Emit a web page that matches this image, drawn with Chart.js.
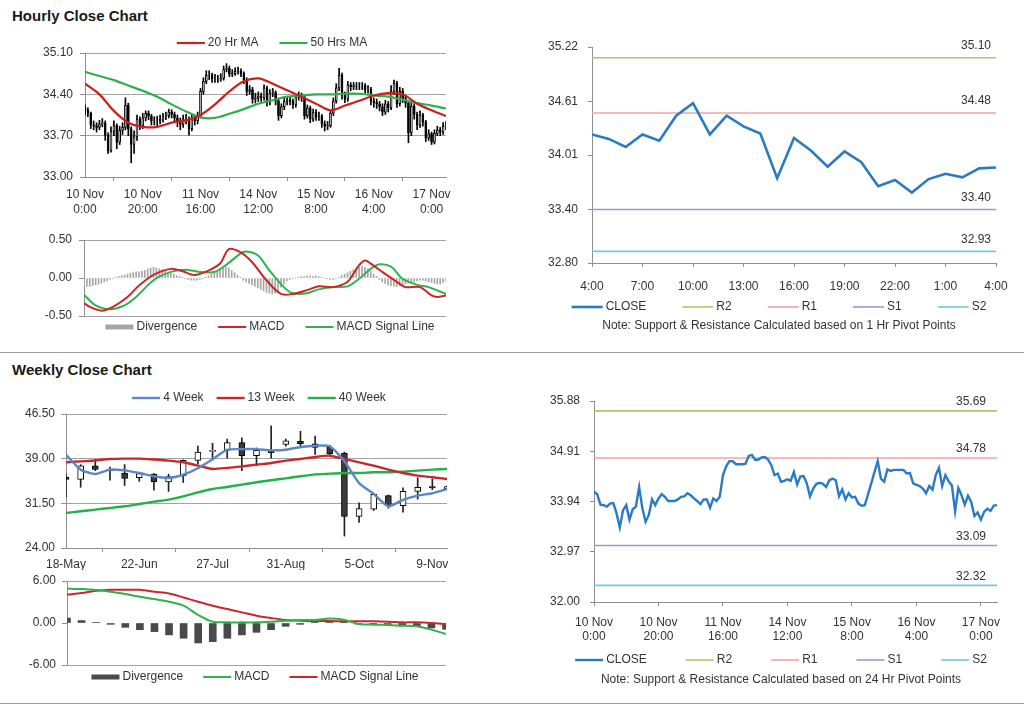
<!DOCTYPE html>
<html>
<head>
<meta charset="utf-8">
<title>Hourly and Weekly Close Charts</title>
<script src="https://cdn.jsdelivr.net/npm/chart.js@4"></script>
<style>
  html, body { margin: 0; padding: 0; background: #fff; }
  body { position: relative; width: 1024px; height: 706px; overflow: hidden; font-family: "Liberation Sans", Arial, sans-serif; }
  .title { position: absolute; left: 12px; font-size: 15px; line-height: 18px; font-weight: bold; color: #1a1a1a; }
  .rule { position: absolute; left: 0; width: 1024px; height: 1px; background: #a0a0a0; }
  .panel { position: absolute; }
</style>
</head>
<body>
<div class="title" style="top:7px">Hourly Close Chart</div>
<div class="rule" style="top:352px"></div>
<div class="title" style="top:361px">Weekly Close Chart</div>
<div class="rule" style="top:703px"></div>

<canvas id="hour-candles" class="panel" width="460" height="195" style="left:0;top:30px"></canvas>
<canvas id="hour-macd" class="panel" width="460" height="112" style="left:0;top:228px"></canvas>
<canvas id="pivot-1h" class="panel" width="504" height="310" style="left:520px;top:30px"></canvas>
<canvas id="week-candles" class="panel" width="460" height="185" style="left:0;top:385px"></canvas>
<canvas id="week-macd" class="panel" width="460" height="130" style="left:0;top:570px"></canvas>
<canvas id="pivot-24h" class="panel" width="504" height="310" style="left:520px;top:385px"></canvas>

<script>
// Hourly prices, 10 Nov 0:00 to 17 Nov 4:00 (126 trading hours)
const hourFirstOpen = 34.18;
const hourClose = [
  34.13, 34.08, 33.88, 33.87, 33.84, 33.90, 33.91, 33.71, 33.44, 33.77,
  33.87, 33.59, 33.79, 33.84, 34.22, 33.81, 33.55, 33.68, 33.98, 33.87,
  34.00, 34.08, 34.03, 33.95, 33.95, 33.95, 33.98, 34.03, 34.04, 34.10,
  34.06, 34.00, 33.95, 33.89, 33.98, 33.98, 33.82, 34.00, 33.95, 34.03,
  34.45, 34.62, 34.72, 34.72, 34.66, 34.66, 34.66, 34.67, 34.82, 34.84,
  34.74, 34.75, 34.79, 34.80, 34.75, 34.64, 34.45, 34.48, 34.32, 34.34,
  34.37, 34.34, 34.51, 34.27, 34.42, 34.43, 34.29, 34.04, 34.19, 34.28,
  34.30, 34.28, 34.22, 34.35, 34.38, 34.35, 34.04, 34.17, 33.98, 34.10,
  34.02, 34.03, 33.90, 33.86, 33.87, 34.08, 34.29, 34.51, 34.72, 34.38,
  34.32, 34.56, 34.53, 34.55, 34.55, 34.55, 34.55, 34.48, 34.49, 34.29,
  34.26, 34.24, 34.19, 34.10, 34.24, 34.17, 34.45, 34.59, 34.24, 34.45,
  34.33, 34.25, 33.75, 34.20, 34.06, 33.88, 34.05, 33.93, 33.66, 33.73,
  33.59, 33.74, 33.80, 33.76, 33.86, 33.87
];
const hourHigh = [
  34.22, 34.17, 34.10, 33.95, 33.92, 33.96, 33.99, 33.95, 33.75, 33.85,
  33.95, 33.90, 33.86, 33.92, 34.34, 34.25, 33.85, 33.78, 34.05, 34.02,
  34.08, 34.12, 34.12, 34.06, 34.02, 34.03, 34.05, 34.08, 34.10, 34.15,
  34.14, 34.10, 34.05, 34.00, 34.05, 34.06, 34.02, 34.06, 34.04, 34.10,
  34.50, 34.68, 34.80, 34.80, 34.76, 34.74, 34.72, 34.75, 34.88, 34.92,
  34.88, 34.82, 34.85, 34.86, 34.83, 34.78, 34.68, 34.55, 34.52, 34.42,
  34.44, 34.42, 34.56, 34.54, 34.48, 34.50, 34.46, 34.32, 34.24, 34.34,
  34.36, 34.35, 34.32, 34.40, 34.44, 34.42, 34.38, 34.22, 34.20, 34.15,
  34.14, 34.10, 34.06, 33.95, 33.94, 34.14, 34.34, 34.58, 34.84, 34.76,
  34.44, 34.62, 34.60, 34.60, 34.60, 34.60, 34.60, 34.58, 34.55, 34.52,
  34.34, 34.32, 34.28, 34.24, 34.30, 34.28, 34.55, 34.64, 34.62, 34.52,
  34.50, 34.38, 34.30, 34.26, 34.24, 34.10, 34.12, 34.08, 33.96, 33.80,
  33.76, 33.80, 33.86, 33.84, 33.92, 33.94
];
const hourLow = [
  34.05, 34.02, 33.82, 33.80, 33.76, 33.80, 33.85, 33.62, 33.40, 33.42,
  33.70, 33.48, 33.55, 33.72, 33.80, 33.70, 33.24, 33.40, 33.62, 33.80,
  33.82, 33.95, 33.97, 33.88, 33.88, 33.87, 33.90, 33.93, 33.97, 34.00,
  34.00, 33.92, 33.85, 33.80, 33.84, 33.90, 33.71, 33.78, 33.88, 33.90,
  34.00, 34.40, 34.58, 34.65, 34.60, 34.60, 34.60, 34.62, 34.64, 34.78,
  34.70, 34.70, 34.72, 34.74, 34.70, 34.58, 34.38, 34.40, 34.25, 34.25,
  34.28, 34.28, 34.30, 34.20, 34.22, 34.36, 34.22, 33.96, 34.00, 34.14,
  34.22, 34.22, 34.16, 34.18, 34.30, 34.28, 33.98, 34.00, 33.92, 33.94,
  33.96, 33.96, 33.84, 33.78, 33.80, 33.84, 34.04, 34.25, 34.46, 34.32,
  34.26, 34.28, 34.46, 34.48, 34.48, 34.48, 34.48, 34.42, 34.42, 34.22,
  34.18, 34.16, 34.12, 34.04, 34.06, 34.10, 34.14, 34.40, 34.18, 34.20,
  34.26, 34.18, 33.58, 33.70, 33.98, 33.80, 33.84, 33.86, 33.60, 33.62,
  33.55, 33.56, 33.70, 33.70, 33.72, 33.80
];
const hourTickAt = [0, 20, 40, 60, 80, 100, 120];
const hourTickLabels = [
  ["10 Nov", "0:00"], ["10 Nov", "20:00"], ["11 Nov", "16:00"], ["14 Nov", "12:00"],
  ["15 Nov", "8:00"], ["16 Nov", "4:00"], ["17 Nov", "0:00"]
];
const hourYTicks = [33.0, 33.7, 34.4, 35.1];

// Hourly moving averages, read every 5 hours
const maAt = [0, 5, 10, 15, 20, 25, 30, 35, 40, 45, 50, 55, 60, 65, 70, 75, 80, 85, 90, 95, 100, 105, 110, 115, 120, 125];
const ma20 = [34.58, 34.40, 34.12, 33.92, 33.85, 33.85, 33.92, 33.96, 34.05, 34.23, 34.45, 34.62, 34.67,
  34.58, 34.47, 34.36, 34.24, 34.13, 34.21, 34.29, 34.38, 34.42, 34.40, 34.24, 34.13, 34.03];
const ma50 = [34.78, 34.71, 34.64, 34.55, 34.46, 34.36, 34.23, 34.11, 34.01, 34.00, 34.07, 34.15, 34.24,
  34.30, 34.36, 34.38, 34.40, 34.40, 34.41, 34.41, 34.38, 34.36, 34.31, 34.25, 34.21, 34.16];

// Hourly MACD
const hourMacdAt = [0, 2, 6, 10, 15, 19, 24, 30, 34, 38, 42, 47, 50, 54, 58, 63, 68, 72, 77, 81,
  86, 91, 95, 97, 99, 103, 108, 111, 116, 120, 122, 125];
const hourMacd = [-0.33, -0.38, -0.43, -0.38, -0.25, -0.10, 0.04, 0.12, 0.09, 0.04, 0.08, 0.19, 0.38, 0.34,
  0.21, -0.03, -0.21, -0.21, -0.16, -0.11, -0.12, -0.05, 0.17, 0.23, 0.19, 0.08, -0.05, -0.12, -0.12,
  -0.23, -0.25, -0.23];
const hourSignalAt = [0, 4, 9, 14, 18, 24, 30, 35, 40, 45, 49, 54, 56, 60, 64, 69, 72, 77, 81, 86,
  91, 95, 99, 102, 106, 110, 115, 119, 125];
const hourSignal = [-0.22, -0.36, -0.41, -0.36, -0.25, -0.03, 0.08, 0.11, 0.08, 0.08, 0.17, 0.32, 0.35,
  0.30, 0.10, -0.12, -0.20, -0.20, -0.15, -0.12, -0.11, -0.01, 0.12, 0.18, 0.15, -0.01, -0.09, -0.12, -0.21];
const hourDivergence = [
  -0.10, -0.11, -0.11, -0.10, -0.09, -0.08, -0.07, -0.05, -0.04, -0.02, -0.01,
  0.01, 0.02, 0.03, 0.04, 0.05, 0.06, 0.07, 0.08, 0.08, 0.09, 0.10, 0.12, 0.13, 0.14,
  0.13, 0.12, 0.11, 0.09, 0.07, 0.06, 0.05, 0.03, 0.02, 0.01,
  -0.01, -0.02, -0.03, -0.03, -0.03, -0.02, -0.01,
  0.01, 0.03, 0.05, 0.07, 0.09, 0.11, 0.13, 0.14, 0.13, 0.10, 0.07, 0.04, 0.01,
  -0.03, -0.05, -0.07, -0.09, -0.11, -0.13, -0.15, -0.17, -0.19, -0.20, -0.21, -0.20,
  -0.17, -0.12, -0.08, -0.04, -0.02,
  -0.01, 0.00, 0.01, 0.02, 0.02, 0.03, 0.03, 0.02, 0.03, 0.02, 0.01, 0.00, -0.01,
  -0.02, -0.02, -0.01, 0.01, 0.03, 0.05,
  0.07, 0.09, 0.11, 0.13, 0.14, 0.15, 0.14, 0.12, 0.09, 0.05, 0.02,
  -0.02, -0.05, -0.07, -0.09, -0.10, -0.11, -0.11, -0.10, -0.09, -0.08, -0.07, -0.06,
  -0.05, -0.04, -0.03, -0.03, -0.04, -0.05, -0.06, -0.07, -0.08, -0.08, -0.06, -0.04
];
const hourMacdTicks = [-0.5, 0, 0.5];

// Pivot levels
const pivotNames = ["R2", "R1", "S1", "S2"];
const pivot1hLevels = [35.10, 34.48, 33.40, 32.93];
const pivot1hYTicks = [32.80, 33.40, 34.01, 34.61, 35.22];
const pivot1hTickAt = [0, 3, 6, 9, 12, 15, 18, 21, 24];
const pivot1hTickLabels = ["4:00", "7:00", "10:00", "13:00", "16:00", "19:00", "22:00", "1:00", "4:00"];
const pivot24hLevels = [35.69, 34.78, 33.09, 32.32];
const pivot24hYTicks = [32.00, 32.97, 33.94, 34.91, 35.88];

// Weekly prices, 18 May to 16 Nov
const weekOpen = [35.9, 35.5, 37.8, 37.2, 36.6, 35.8, 36.4, 35.1, 36.1, 38.7, 40.2, 40.4, 41.7, 39.5,
  40.3, 41.4, 41.9, 41.5, 40.9, 39.9, 29.3, 30.5, 32.8, 31.1, 33.5, 34.3, 33.9];
const weekHigh = [36.4, 38.0, 38.9, 37.6, 38.0, 36.7, 36.5, 36.4, 38.8, 41.1, 41.6, 42.3, 42.5, 40.8,
  44.5, 42.3, 43.6, 42.8, 41.2, 40.1, 31.6, 33.2, 32.9, 34.1, 35.8, 35.6, 34.4];
const weekLow = [32.6, 34.2, 37.0, 35.4, 34.5, 35.2, 33.7, 33.5, 35.0, 38.1, 38.8, 39.1, 37.0, 37.8,
  39.1, 41.1, 40.8, 39.7, 39.3, 26.0, 28.3, 30.3, 30.7, 30.0, 32.2, 33.8, 33.8];
const weekClose = [35.5, 37.8, 37.2, 37.0, 35.7, 36.5, 35.1, 36.0, 38.7, 40.1, 40.4, 41.7, 39.5, 40.4,
  40.0, 42.0, 41.5, 40.9, 39.8, 29.3, 30.6, 33.0, 31.1, 33.5, 34.2, 34.1, 34.3];
const ma4w = [39.67, 37.16, 36.43, 37.16, 37.04, 36.6, 36.04, 35.76, 36.3, 37.4, 38.9, 40.5, 40.6, 40.6,
  40.4, 40.5, 40.96, 41.18, 41.07, 38.55, 34.9, 33.07, 31.0, 32.1, 32.8, 33.2, 33.9];
const ma13w = [38.39, 38.55, 38.7, 38.95, 39.0, 39.0, 38.85, 38.67, 38.39, 37.83, 37.27, 37.44, 37.7, 38.0,
  38.27, 38.67, 38.95, 39.28, 39.5, 38.95, 38.39, 37.83, 37.16, 36.6, 36.15, 35.87, 35.59];
const ma40w = [29.88, 30.16, 30.44, 30.72, 31.0, 31.39, 31.78, 32.12, 32.68, 33.35, 33.91, 34.25, 34.64,
  35.03, 35.37, 35.7, 36.04, 36.37, 36.48, 36.6, 36.6, 36.71, 36.71, 36.82, 36.99, 37.16, 37.27];
const weekTickAt = [0, 5, 10, 15, 20, 25];
const weekTickLabels = ["18-May", "22-Jun", "27-Jul", "31-Aug", "5-Oct", "9-Nov"];
const weekYTicks = [24.0, 31.5, 39.0, 46.5];

// Weekly MACD
const weekDivergence = [0.71, 0.35, 0.05, -0.19, -0.62, -0.95, -1.23, -1.7, -2.18, -2.85, -2.66, -2.18,
  -1.7, -1.33, -0.95, -0.47, -0.19, 0.2, 0.3, 0.2, -0.15, -0.2, -0.3, -0.4, -0.5, -0.7, -0.9];
const weekMacd = [4.93, 4.84, 4.70, 4.46, 4.13, 3.75, 3.42, 3.04, 2.47, 1.14, 0.19, 0.09, 0.09, 0.09,
  0.19, 0.33, 0.43, 0.43, 0.66, 0.47, -0.14, -0.24, -0.28, -0.38, -0.47, -0.95, -1.57];
const weekSignal = [4.03, 4.27, 4.60, 4.74, 4.74, 4.74, 4.46, 4.22, 3.65, 3.04, 2.47, 1.99, 1.52, 1.04,
  0.71, 0.43, 0.33, 0.28, 0.28, 0.24, 0.24, 0.24, 0.19, 0.09, 0.09, 0.0, -0.14];
const weekMacdTicks = [-6, 0, 6];

/* STYLE */

const AXIS = "#8f8f8f";
const GRID = "#a3a3a3";
const TEXT = "#333";
const FONT = "'Liberation Sans', Arial, sans-serif";
const LEVEL_COLORS = ["#a9c86c", "#f0a4a4", "#ab92c8", "#74c7dc"];
const CLOSE_BLUE = "#2a7bc4";

Chart.defaults.font.family = FONT;
Chart.defaults.color = TEXT;
Chart.defaults.animation = false;
Chart.defaults.plugins.legend.display = false;
Chart.defaults.plugins.tooltip.enabled = false;
Chart.defaults.elements.point.radius = 0;

/* PLUGINS */

// one row of legend items centred under / over the plot, plus optional note
const rowLegend = {
  id: "rowLegend",
  afterDraw(chart, args, opts) {
    const ctx = chart.ctx;
    const items = chart.data.datasets.filter((d) => d.legendKind);
    const sample = opts.sample || 28;
    ctx.save();
    ctx.font = "12px " + FONT;
    ctx.textBaseline = "middle";
    const widths = items.map((d) => sample + 3 + ctx.measureText(d.label).width);
    const total = widths.reduce((a, b) => a + b, 0) + opts.gap * (items.length - 1);
    let x = opts.centerX - total / 2;
    items.forEach((d, i) => {
      if (d.legendKind === "box") {
        ctx.fillStyle = d.backgroundColor;
        ctx.fillRect(x, opts.y - 2.5, sample, 5);
      } else {
        ctx.strokeStyle = d.borderColor;
        ctx.lineWidth = d.borderWidth;
        ctx.beginPath();
        ctx.moveTo(x, opts.y);
        ctx.lineTo(x + sample, opts.y);
        ctx.stroke();
      }
      ctx.fillStyle = TEXT;
      ctx.textAlign = "left";
      ctx.fillText(d.label, x + sample + 3, opts.y);
      x += widths[i] + opts.gap;
    });
    if (opts.note) {
      ctx.textAlign = "center";
      ctx.fillText(opts.note, opts.centerX, opts.noteY);
    }
    ctx.restore();
  }
};

// value written above each pivot level line, at the right end
const levelLabels = {
  id: "levelLabels",
  afterDatasetsDraw(chart, args, opts) {
    const { ctx, chartArea, scales } = chart;
    ctx.save();
    ctx.font = "12px " + FONT;
    ctx.fillStyle = TEXT;
    ctx.textAlign = "right";
    ctx.textBaseline = "middle";
    chart.data.datasets.forEach((d) => {
      if (d.level == null) return;
      const y = scales.y.getPixelForValue(d.level);
      ctx.fillText(d.level.toFixed(2), chartArea.right - opts.inset, y - opts.rise);
    });
    ctx.restore();
  }
};

/* HELPERS */

function series(values) {
  return values.map((y, i) => ({ x: i, y }));
}

function pointsAt(xs, values) {
  return values.map((y, i) => ({ x: xs[i], y }));
}

function fixedTicks(values) {
  return (scale) => {
    scale.ticks = values.map((v) => ({ value: v }));
  };
}

function valueAxis(min, max, ticks, pad, skipZero) {
  return {
    min,
    max,
    afterBuildTicks: fixedTicks(ticks),
    ticks: { callback: (v) => v.toFixed(2), padding: pad, font: { size: 12 }, color: TEXT },
    grid: {
      color: (c) => (skipZero && c.tick && c.tick.value === 0 ? "rgba(0,0,0,0)" : GRID),
      tickColor: AXIS,
      tickLength: 5
    },
    border: { color: AXIS }
  };
}

function pivotValueAxis(min, max, ticks) {
  const axis = valueAxis(min, max, ticks, 10, false);
  axis.grid = { drawOnChartArea: false, color: AXIS, tickLength: 4 };
  return axis;
}

function indexAxis(max, at, labels, pad, lineHeight) {
  return {
    type: "linear",
    min: 0,
    max,
    offset: false,
    afterBuildTicks: fixedTicks(at),
    ticks: {
      callback: (v, i) => labels[i],
      padding: pad,
      autoSkip: false,
      maxRotation: 0,
      font: { size: 12, lineHeight },
      color: TEXT
    },
    grid: { drawOnChartArea: false, color: AXIS, tickLength: 4 },
    border: { color: AXIS }
  };
}

function hiddenAxis(max) {
  return { type: "linear", min: 0, max, offset: false, display: false };
}

function candleSets(open, high, low, close, body, downColor, wickColor) {
  return [
    {
      type: "bar",
      data: close.map((c, i) => ({ x: i, y: [open[i], c] })),
      backgroundColor: close.map((c, i) => (c >= open[i] ? "#fff" : downColor)),
      borderColor: "#000",
      borderWidth: 1,
      borderSkipped: false,
      barThickness: body,
      grouped: false,
      clip: 0,
      order: 3
    },
    {
      type: "bar",
      data: high.map((h, i) => ({ x: i, y: [low[i], h] })),
      backgroundColor: wickColor,
      barThickness: 1,
      grouped: false,
      clip: 0,
      order: 4
    }
  ];
}

function lineSet(label, data, color, width, tension) {
  return {
    label,
    legendKind: "line",
    data,
    borderColor: color,
    borderWidth: width,
    tension: tension || 0,
    pointRadius: 0,
    order: 1
  };
}

function levelSets(levels, last) {
  return pivotNames.map((name, k) => ({
    label: name,
    legendKind: "line",
    level: levels[k],
    data: [{ x: 0, y: levels[k] }, { x: last, y: levels[k] }],
    borderColor: LEVEL_COLORS[k],
    borderWidth: 1.6,
    pointRadius: 0,
    order: 2
  }));
}

// area is the plot rectangle inside the canvas
function drawPanel(id, area, datasets, scales, plugins) {
  const canvas = document.getElementById(id);
  const xShown = scales.x.display !== false;
  scales.y.afterFit = (s) => {
    s.width = area.left;
    s.paddingTop = 0;
    s.paddingBottom = 0;
  };
  if (xShown) {
    scales.x.afterFit = (s) => {
      s.height = canvas.height - area.bottom;
      s.paddingLeft = 0;
      s.paddingRight = 0;
    };
  }
  return new Chart(canvas, {
    type: "line",
    data: { datasets },
    options: {
      responsive: false,
      layout: {
        padding: {
          left: 0,
          top: area.top,
          right: canvas.width - area.right,
          bottom: xShown ? 0 : canvas.height - area.bottom
        }
      },
      scales,
      plugins
    },
    plugins: [rowLegend, levelLabels]
  });
}

/* CHARTS */

const hourOpen = [hourFirstOpen].concat(hourClose.slice(0, -1));
const lastHour = hourClose.length - 1;

drawPanel(
  "hour-candles",
  { left: 85, top: 23, right: 446, bottom: 147 },
  [
    lineSet("20 Hr MA", pointsAt(maAt, ma20), "#cc1f1f", 2.2, 0.3),
    lineSet("50 Hrs MA", pointsAt(maAt, ma50), "#2eb04f", 2.2, 0.3),
    ...candleSets(hourOpen, hourHigh, hourLow, hourClose, 2, "#000", "#000")
  ],
  {
    x: indexAxis(lastHour, hourTickAt, hourTickLabels, 6, 1.25),
    y: valueAxis(33.0, 35.1, hourYTicks, 7, false)
  },
  { rowLegend: { centerX: 272, y: 13, gap: 21 }, levelLabels: {} }
);

drawPanel(
  "hour-macd",
  { left: 84, top: 12, right: 446, bottom: 88 },
  [
    {
      type: "bar",
      label: "Divergence",
      legendKind: "box",
      data: series(hourDivergence),
      backgroundColor: "#a6a6a6",
      barThickness: 1,
      grouped: false,
      order: 3
    },
    lineSet("MACD", pointsAt(hourMacdAt, hourMacd), "#d12525", 2, 0.3),
    lineSet("MACD Signal Line", pointsAt(hourSignalAt, hourSignal), "#2eb34f", 2, 0.3)
  ],
  {
    x: hiddenAxis(lastHour),
    y: valueAxis(-0.5, 0.5, hourMacdTicks, 7, true)
  },
  { rowLegend: { centerX: 270, y: 99, gap: 21 }, levelLabels: {} }
);

const lastDay = hourClose.slice(-25);

drawPanel(
  "pivot-1h",
  { left: 72, top: 17, right: 476, bottom: 233 },
  [lineSet("CLOSE", series(lastDay), CLOSE_BLUE, 2.6, 0), ...levelSets(pivot1hLevels, lastDay.length - 1)],
  {
    x: indexAxis(lastDay.length - 1, pivot1hTickAt, pivot1hTickLabels, 12, 1.2),
    y: pivotValueAxis(32.8, 35.22, pivot1hYTicks)
  },
  {
    rowLegend: {
      centerX: 259,
      y: 277,
      gap: 36,
      sample: 31,
      note: "Note: Support & Resistance Calculated based on 1 Hr Pivot Points",
      noteY: 296
    },
    levelLabels: { inset: 5, rise: 12 }
  }
);

drawPanel(
  "week-candles",
  { left: 66, top: 29, right: 447, bottom: 163 },
  [
    lineSet("4 Week", series(ma4w), "#5b87c5", 2.4, 0.2),
    lineSet("13 Week", series(ma13w), "#c8282d", 2.4, 0.2),
    lineSet("40 Week", series(ma40w), "#22b24b", 2.4, 0.2),
    ...candleSets(weekOpen, weekHigh, weekLow, weekClose, 6, "#3a3a3a", "#222")
  ],
  {
    x: indexAxis(weekClose.length - 1, weekTickAt, weekTickLabels, 5, 1.2),
    y: valueAxis(24.0, 46.5, weekYTicks, 6, false)
  },
  { rowLegend: { centerX: 259, y: 13, gap: 13 }, levelLabels: {} }
);

drawPanel(
  "week-macd",
  { left: 67, top: 11, right: 446, bottom: 95 },
  [
    {
      type: "bar",
      label: "Divergence",
      legendKind: "box",
      data: series(weekDivergence),
      backgroundColor: "#4a4a4a",
      barThickness: 7,
      grouped: false,
      clip: 0,
      order: 3
    },
    lineSet("MACD", series(weekMacd), "#2fb14d", 2, 0.3),
    lineSet("MACD Signal Line", series(weekSignal), "#c8282d", 2, 0.3)
  ],
  {
    x: hiddenAxis(weekClose.length - 1),
    y: valueAxis(-6, 6, weekMacdTicks, 6, true)
  },
  { rowLegend: { centerX: 255, y: 107, gap: 20 }, levelLabels: {} }
);

drawPanel(
  "pivot-24h",
  { left: 74, top: 16, right: 477, bottom: 217 },
  [lineSet("CLOSE", series(hourClose), CLOSE_BLUE, 2.4, 0), ...levelSets(pivot24hLevels, lastHour)],
  {
    x: indexAxis(lastHour, hourTickAt, hourTickLabels, 10, 1.17),
    y: pivotValueAxis(32.0, 35.88, pivot24hYTicks)
  },
  {
    rowLegend: {
      centerX: 261,
      y: 275,
      gap: 39,
      sample: 28,
      note: "Note: Support & Resistance Calculated based on 24 Hr Pivot Points",
      noteY: 295
    },
    levelLabels: { inset: 11, rise: 9 }
  }
);
</script>
</body>
</html>
